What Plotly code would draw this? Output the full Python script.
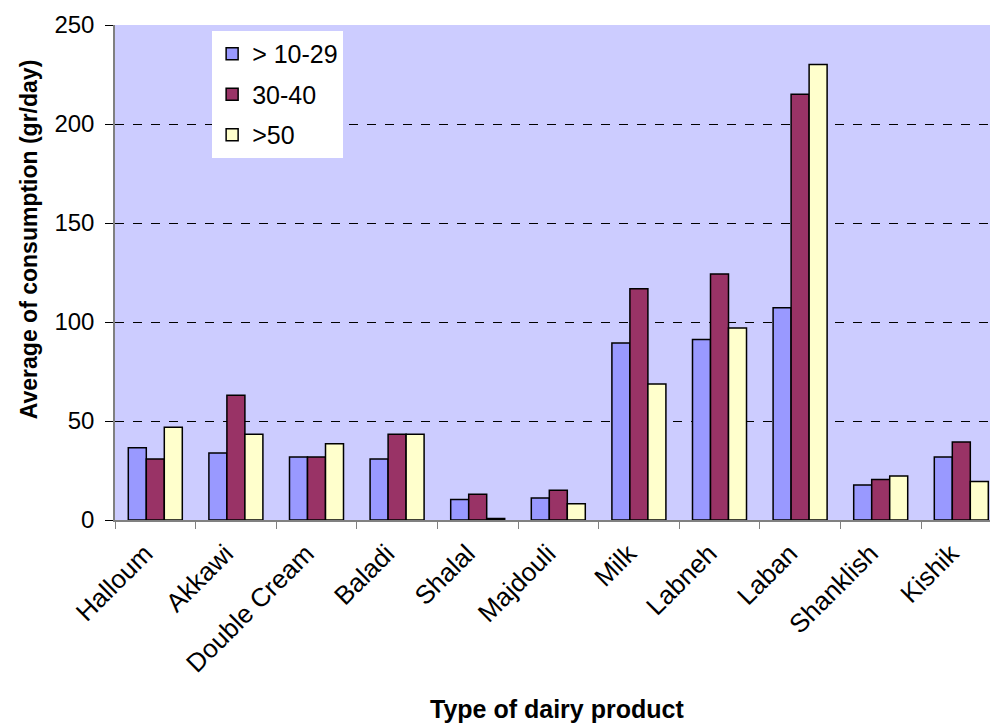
import plotly.graph_objects as go

categories = ["Halloum", "Akkawi", "Double Cream", "Baladi", "Shalal", "Majdouli",
              "Milk", "Labneh", "Laban", "Shanklish", "Kishik"]
age_10_29 = [36.5, 33.8, 31.8, 30.8, 10.3, 11.1, 89.4, 91.2, 107.2, 17.7, 31.8]
age_30_40 = [30.8, 63.0, 31.8, 43.3, 13.0, 15.0, 116.8, 124.2, 215.0, 20.5, 39.4]
age_50 = [46.8, 43.3, 38.5, 43.3, 0.8, 8.2, 68.7, 97.0, 230.0, 22.2, 19.4]
series_names = ["> 10-29", "30-40", ">50"]
y_ticks = [0, 50, 100, 150, 200, 250]

colors = ["#9999FF", "#993366", "#FFFFCC"]
FONT = "Arial, Liberation Sans, sans-serif"

fig = go.Figure()
for i, (name, vals) in enumerate(zip(series_names, [age_10_29, age_30_40, age_50])):
    fig.add_trace(go.Bar(
        x=categories, y=vals, name=name, legendgroup=f"g{i}",
        marker=dict(color=colors[i], line=dict(color="black", width=1.5)),
    ))

fig.update_layout(
    width=990, height=726,
    margin=dict(l=115, r=0, t=25, b=206),
    paper_bgcolor="white", plot_bgcolor="#CCCCFF",
    barmode="group", bargap=0.33, bargroupgap=0,
    font=dict(family=FONT, size=24, color="black"),
    showlegend=True,
    legend=dict(x=0.111, y=0.988, xanchor="left", yanchor="top",
                bgcolor="white", borderwidth=0, tracegroupgap=5,
                font=dict(size=25)),
    xaxis=dict(type="category", range=[-0.5, 10.356], tickangle=-45,
               tickvals=categories, ticktext=[c + "\u00a0\u00a0" for c in categories],
               showline=True, linecolor="#808080", linewidth=1.5,
               ticks="outside", tickson="boundaries", ticklen=7, tickcolor="#808080",
               showgrid=False, tickfont=dict(size=26), ticklabelstandoff=-4),
    yaxis=dict(range=[0, 250], tickvals=y_ticks, showline=True, linecolor="#808080",
               linewidth=1.5, ticks="outside", ticklen=8, tickcolor="black",
               showgrid=True, gridcolor="black", griddash="dash", gridwidth=1,
               zeroline=False, tickfont=dict(size=24), ticklabelstandoff=6),
    annotations=[
        dict(text="<b>Average of consumption (gr/day)</b>", textangle=-90,
             xref="paper", yref="paper", x=-0.099, y=0.568, showarrow=False,
             xanchor="center", yanchor="middle", font=dict(size=23)),
        dict(text="<b>Type of dairy product</b>", xref="paper", yref="paper",
             x=0.505, y=-0.414, showarrow=False, xanchor="center", yanchor="bottom",
             font=dict(size=25)),
    ],
)

fig.write_html("out.html")
